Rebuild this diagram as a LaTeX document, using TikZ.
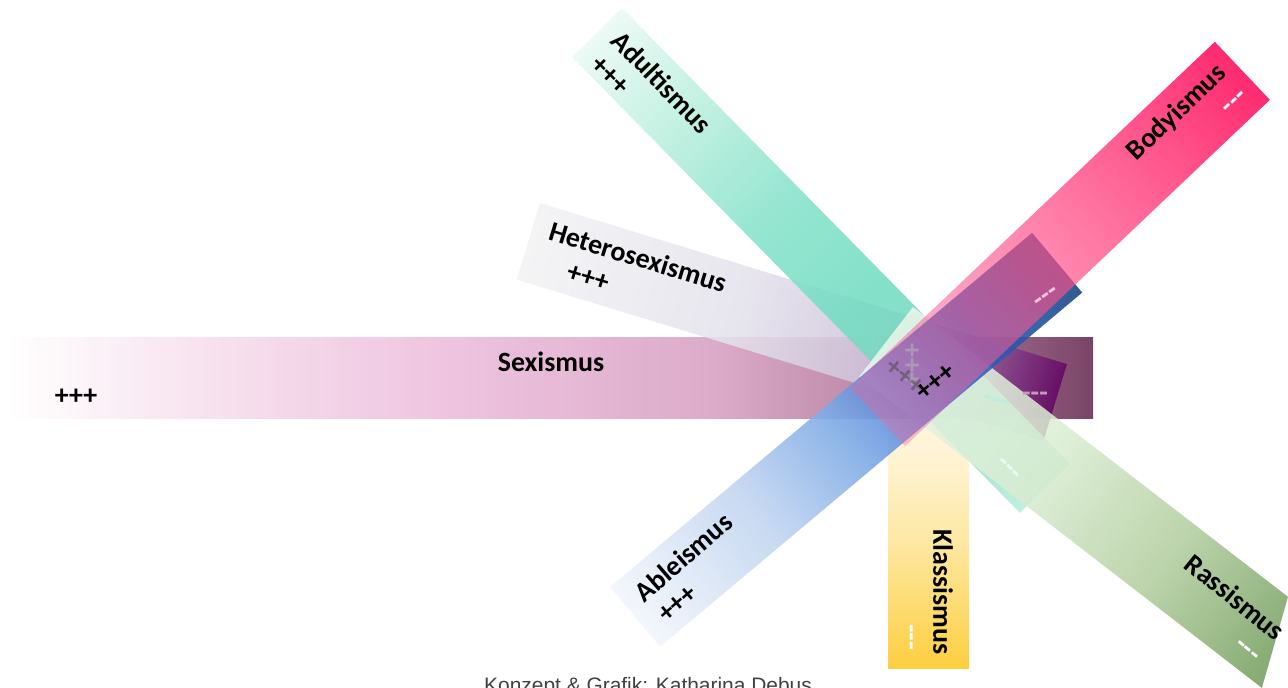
\documentclass[tikz,border=0pt]{standalone}
\usepackage{fontspec}
\setmainfont{Carlito}
\newfontfamily\capfont{Liberation Sans}
\usetikzlibrary{fadings}
% colours
\definecolor{sexA}{HTML}{F8E4F0}\definecolor{sexB}{HTML}{EDBEDD}\definecolor{sexC}{HTML}{D8A2C4}\definecolor{sexD}{HTML}{A86E90}\definecolor{sexE}{HTML}{6A3056}
\definecolor{hetA}{HTML}{F2F2F4}\definecolor{hetB}{HTML}{E4E2EC}\definecolor{hetC}{HTML}{D0C4DC}\definecolor{hetD}{HTML}{905A98}\definecolor{hetE}{HTML}{640664}
\definecolor{aduA}{HTML}{EAF9F4}\definecolor{aduB}{HTML}{B8EEDD}\definecolor{aduC}{HTML}{86E2CA}\definecolor{aduD}{HTML}{72DCC2}\definecolor{aduE}{HTML}{80D8C0}\definecolor{aduF}{HTML}{B8ECDC}
\definecolor{rasA}{HTML}{EEF6EA}\definecolor{rasB}{HTML}{D8ECD0}\definecolor{rasC}{HTML}{B0CC9C}\definecolor{rasD}{HTML}{6E9A58}
\definecolor{klaA}{HTML}{FFFAF0}\definecolor{klaB}{HTML}{FFF2D0}\definecolor{klaC}{HTML}{FDE7A0}\definecolor{klaD}{HTML}{FDCC36}
\definecolor{ablA}{HTML}{F2F6FC}\definecolor{ablB}{HTML}{C0D4F0}\definecolor{ablC}{HTML}{80ACE6}\definecolor{ablD}{HTML}{5080D8}\definecolor{ablE}{HTML}{2C5CB8}\definecolor{ablF}{HTML}{1A4A88}
\definecolor{bodA}{HTML}{F0689C}\definecolor{bodB}{HTML}{FF4C86}\definecolor{bodC}{HTML}{FF2A70}
\definecolor{capgrey}{HTML}{404040}
% shadings (bar spans 25bp..75bp)
\pgfdeclarehorizontalshading{shSex}{100bp}{color(0bp)=(white); color(25bp)=(white); color(32.5bp)=(sexA); color(45bp)=(sexB); color(57.5bp)=(sexC); color(67.5bp)=(sexD); color(75bp)=(sexE); color(100bp)=(sexE)}
\pgfdeclarehorizontalshading{shHet}{100bp}{color(0bp)=(hetA); color(25bp)=(hetA); color(45bp)=(hetB); color(57.5bp)=(hetC); color(67.5bp)=(hetD); color(75bp)=(hetE); color(100bp)=(hetE)}
\pgfdeclarehorizontalshading{shAdu}{100bp}{color(0bp)=(aduA); color(25bp)=(aduA); color(35bp)=(aduB); color(45bp)=(aduC); color(55bp)=(aduD); color(65bp)=(aduE); color(75bp)=(aduF); color(100bp)=(aduF)}
\pgfdeclarehorizontalshading{shRas}{100bp}{color(0bp)=(rasA); color(25bp)=(rasA); color(45bp)=(rasB); color(60bp)=(rasC); color(75bp)=(rasD); color(100bp)=(rasD)}
\pgfdeclarehorizontalshading{shKla}{100bp}{color(0bp)=(klaA); color(25bp)=(klaA); color(42.5bp)=(klaB); color(55bp)=(klaC); color(75bp)=(klaD); color(100bp)=(klaD)}
\pgfdeclarehorizontalshading{shAbl}{100bp}{color(0bp)=(ablA); color(25bp)=(ablA); color(40bp)=(ablB); color(50bp)=(ablC); color(57.5bp)=(ablD); color(65bp)=(ablE); color(75bp)=(ablF); color(100bp)=(ablF)}
\pgfdeclarehorizontalshading{shBod}{100bp}{color(0bp)=(bodA); color(25bp)=(bodA); color(50bp)=(bodB); color(75bp)=(bodC); color(100bp)=(bodC)}
\tikzfading[name=bodyfade, left color=transparent!60, middle color=transparent!35, right color=transparent!0]
% a bar: start corner (x,y) in px (y down), angle phi clockwise, length, width, shading, opacity
\newcommand{\gbar}[7]{%
  \begin{scope}[transform canvas={shift={(#1,#2)},rotate=-#3}]
    \shade[shading=#6, fill opacity=#7] (0,0) rectangle (#4,#5);
  \end{scope}}
\begin{document}
\begin{tikzpicture}[x=1bp,y=-1bp,
  lbl/.style={font=\bfseries\fontsize{28}{30}\selectfont, inner sep=0pt, text=black},
  dashmark/.style={lbl, text=white}]
\useasboundingbox (0,0) rectangle (1288,688);
\clip (0,0) rectangle (1288,688);
% bars
\gbar{969}{345}{90}{323}{81}{shKla}{0.95}
\gbar{8}{337}{0}{1085}{81}{shSex}{0.9}
\gbar{540}{203}{17}{551}{80}{shHet}{0.88}
\gbar{622}{8}{45.5}{639}{70}{shAdu}{0.88}
\begin{scope}[transform canvas={shift={(913,307)},rotate=-37.7}]
  \shade[shading=shRas, fill opacity=0.85] (0,0) -- (474,0) -- (509,88) -- (0,88) -- cycle;
\end{scope}
\gbar{610}{587}{-40}{551}{78}{shAbl}{0.9}
\begin{scope}[transform canvas={shift={(850,388)},rotate=43.5}]
  \shade[shading=shBod, path fading=bodyfade, fit fading=true] (0,0) rectangle (503,80);
\end{scope}
% labels
\node[lbl] (tSex) at (551,362) {Sexismus};
\node[lbl] (pSex) at (76,397) {+++};
\node[lbl, rotate=-17] (tHet) at (638,257) {Heterosexismus};
\node[lbl, rotate=-17] (pHet) at (588,278) {+++};
\node[lbl, rotate=-46] (tAdu) at (662,82) {Adultismus};
\node[lbl, rotate=-45] (pAdu) at (610,76) {+++};
\node[lbl, rotate=41] (tAbl) at (683,557) {Ableismus};
\node[lbl, rotate=41] (pAbl) at (678,604) {+++};
\node[lbl, rotate=43.5] (tBod) at (1177,113) {Bodyismus};
\node[dashmark, rotate=43.5] (mBod) at (1236,103) {-{}-{}-};
\node[lbl, rotate=-90] (tKla) at (943,592) {Klassismus};
\node[dashmark, rotate=-90] (mKla) at (908,637) {-{}-{}-};
\node[lbl, rotate=-39] (tRas) at (1235,597) {Rassismus};
\node[dashmark, rotate=-39] (mRas) at (1246,652) {-{}-{}-};
% centre marks
\node[lbl, rotate=-90, text=black!30, text opacity=0.6] (pKla) at (911,365) {+++};
\node[lbl, rotate=-40, text=black!70, text opacity=0.55] (pRas) at (905,377) {+++};
\node[lbl, rotate=40] (pBod) at (936,382) {+++};
\node[dashmark, rotate=35, text=pink!80!magenta!60!white] (mAbl) at (1047,298) {-{}-{}-};
\node[dashmark, text=sexC!80!gray] (mSex) at (1035,397) {-{}-{}-};
\node[dashmark, rotate=-16, text=aduB] (mHet) at (995,403) {-{}-{}-};
\node[dashmark, rotate=-43, text=aduA] (mAdu) at (1008,470) {-{}-{}-};
% caption
\node[font=\capfont\fontsize{21}{24}\selectfont, text=capgrey, anchor=base, inner sep=0pt] (cap) at (648,692) {Konzept \& Grafik: Katharina Debus};
\end{tikzpicture}
\end{document}
